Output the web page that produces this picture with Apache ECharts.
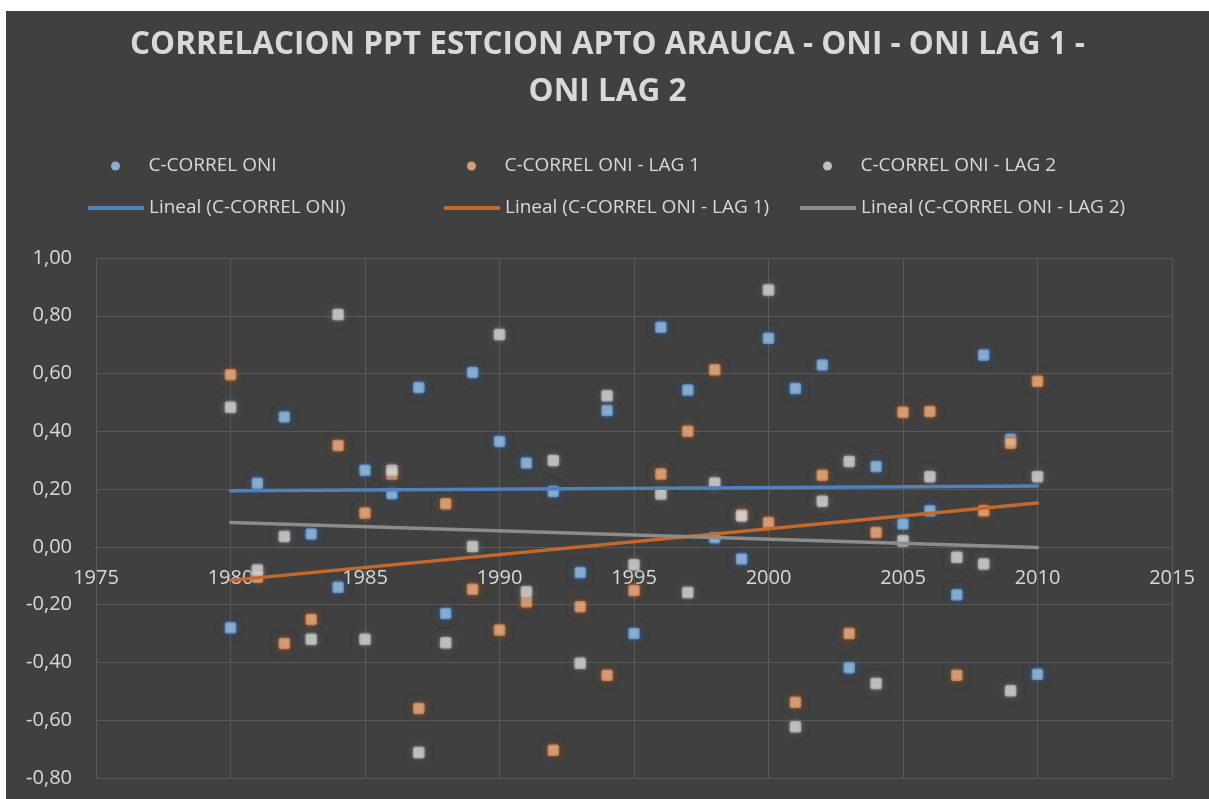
<!DOCTYPE html>
<html>
<head>
<meta charset="utf-8">
<title>Correlacion PPT Arauca - ONI</title>
<script src="https://cdn.jsdelivr.net/npm/echarts@6/dist/echarts.min.js"></script>
<style>
  html, body { margin: 0; padding: 0; background: #ffffff; }
  #main { position: absolute; left: 6px; top: 11px; width: 1203px; height: 788px; background: #404040; }
</style>
</head>
<body>
<div id="main"></div>
<script>
// años de la serie
var years = [1980, 1981, 1982, 1983, 1984, 1985, 1986, 1987, 1988, 1989,
             1990, 1991, 1992, 1993, 1994, 1995, 1996, 1997, 1998, 1999,
             2000, 2001, 2002, 2003, 2004, 2005, 2006, 2007, 2008, 2009, 2010];

// C-CORREL ONI
var oni = [-0.28, 0.22, 0.45, 0.045, -0.14, 0.265, 0.184, 0.552, -0.231, 0.604,
           0.365, 0.29, 0.192, -0.089, 0.472, -0.30, 0.76, 0.543, 0.032, -0.042,
           0.722, 0.548, 0.63, -0.418, 0.278, 0.079, 0.125, -0.166, 0.664, 0.373, -0.441];

// C-CORREL ONI - LAG 1
var oniLag1 = [0.596, -0.105, -0.334, -0.251, 0.351, 0.117, 0.252, -0.559, 0.149, -0.147,
               -0.288, -0.19, -0.704, -0.207, -0.444, -0.151, 0.252, 0.40, 0.613, 0.11,
               0.084, -0.538, 0.248, -0.30, 0.05, 0.466, 0.469, -0.444, 0.125, 0.359, 0.573];

// C-CORREL ONI - LAG 2
var oniLag2 = [0.483, -0.08, 0.036, -0.32, 0.804, -0.32, 0.265, -0.712, -0.332, 0.001,
               0.735, -0.155, 0.299, -0.403, 0.523, -0.062, 0.183, -0.158, 0.221, 0.107,
               0.889, -0.623, 0.158, 0.296, -0.473, 0.021, 0.243, -0.036, -0.059, -0.498, 0.243];

var seriesNames = ['C-CORREL ONI', 'C-CORREL ONI - LAG 1', 'C-CORREL ONI - LAG 2'];
var trendNames = ['Lineal (C-CORREL ONI)', 'Lineal (C-CORREL ONI - LAG 1)', 'Lineal (C-CORREL ONI - LAG 2)'];

// ejes
var xRange = [1975, 2015];
var xStep = 5;
var yRange = [-0.8, 1.0];
var yStep = 0.2;

var textColor = '#d9d9d9';
var gridColor = '#595959';
var font = 'Open Sans';

var gridTop = 247, gridBottom = 21, chartHeight = 788;

function pairs(ys) {
    var list = [];
    for (var i = 0; i < years.length; i++) {
        list.push([years[i], ys[i]]);
    }
    return list;
}

// linea de tendencia (minimos cuadrados)
function trend(ys) {
    var n = years.length, sx = 0, sy = 0, sxx = 0, sxy = 0;
    for (var i = 0; i < n; i++) {
        sx += years[i]; sy += ys[i];
        sxx += years[i] * years[i]; sxy += years[i] * ys[i];
    }
    var b = (n * sxy - sx * sy) / (n * sxx - sx * sx);
    var a = (sy - b * sx) / n;
    var x0 = years[0], x1 = years[n - 1];
    return [[x0, a + b * x0], [x1, a + b * x1]];
}

// puntos con halo (borde translucido + sombra)
function scatter(name, ys, color, glow) {
    return {
        name: name,
        type: 'scatter',
        data: pairs(ys),
        symbol: 'roundRect',
        symbolSize: 11.5,
        z: 2,
        itemStyle: {
            color: color,
            borderColor: glow,
            borderWidth: 3,
            shadowBlur: 10,
            shadowColor: glow
        },
        emphasis: { disabled: true }
    };
}

function trendLine(name, ys, color) {
    return {
        name: name,
        type: 'line',
        data: trend(ys),
        symbol: 'none',
        z: 3,
        itemStyle: { color: color },
        lineStyle: { color: color, width: 3.5, cap: 'round' },
        emphasis: { disabled: true }
    };
}

function legendItem(name, left, top, icon, w, h) {
    return {
        data: [name],
        left: left,
        top: top,
        icon: icon,
        itemWidth: w,
        itemHeight: h,
        padding: 0,
        selectedMode: false,
        itemStyle: { shadowBlur: 0, borderWidth: 0 },
        textStyle: { color: textColor, fontSize: 19, fontFamily: font, lineHeight: 20 }
    };
}

// el eje x corta en y = 0 (desplazado desde abajo)
var zeroOffset = -(0 - yRange[0]) / (yRange[1] - yRange[0]) * (chartHeight - gridTop - gridBottom);

var myChart = echarts.init(document.getElementById('main'));

var option = {
    backgroundColor: '#404040',
    animation: false,
    title: {
        text: 'CORRELACION PPT ESTCION APTO ARAUCA - ONI - ONI LAG 1 -\nONI LAG 2',
        left: 'center',
        top: 6,
        textStyle: { color: textColor, fontSize: 31.5, fontWeight: 'bold', fontFamily: font, lineHeight: 47 }
    },
    legend: [
        legendItem(seriesNames[0], 105, 145, 'circle', 56, 9),
        legendItem(seriesNames[1], 461, 145, 'circle', 56, 9),
        legendItem(seriesNames[2], 817, 145, 'circle', 56, 9),
        legendItem(trendNames[0], 82, 187, 'rect', 56, 4),
        legendItem(trendNames[1], 438, 187, 'rect', 56, 4),
        legendItem(trendNames[2], 794, 187, 'rect', 56, 4)
    ],
    grid: { left: 90, right: 37, top: gridTop, bottom: gridBottom, containLabel: false },
    xAxis: {
        type: 'value',
        min: xRange[0],
        max: xRange[1],
        interval: xStep,
        offset: zeroOffset,
        axisLine: { show: true, onZero: false, lineStyle: { color: gridColor, width: 1 } },
        axisTick: { show: false },
        axisLabel: {
            color: textColor, fontSize: 20, fontFamily: font, margin: 21,
            formatter: function (v) { return String(v); }
        },
        splitLine: { show: true, lineStyle: { color: gridColor, width: 1 } }
    },
    yAxis: {
        type: 'value',
        min: yRange[0],
        max: yRange[1],
        interval: yStep,
        axisLine: { show: false },
        axisTick: { show: false },
        axisLabel: {
            color: textColor, fontSize: 20, fontFamily: font, margin: 24,
            formatter: function (v) { return v.toFixed(2).replace('.', ','); }
        },
        splitLine: { show: true, lineStyle: { color: gridColor, width: 1 } }
    },
    series: [
        scatter(seriesNames[0], oni, '#a3c9ec', 'rgba(50,110,180,0.4)'),
        scatter(seriesNames[1], oniLag1, '#f7b68a', 'rgba(170,90,40,0.4)'),
        scatter(seriesNames[2], oniLag2, '#dedede', 'rgba(140,140,140,0.38)'),
        trendLine(trendNames[0], oni, '#4f81bd'),
        trendLine(trendNames[1], oniLag1, '#c5692b'),
        trendLine(trendNames[2], oniLag2, '#8c8c8c')
    ]
};

myChart.setOption(option);
</script>
</body>
</html>
